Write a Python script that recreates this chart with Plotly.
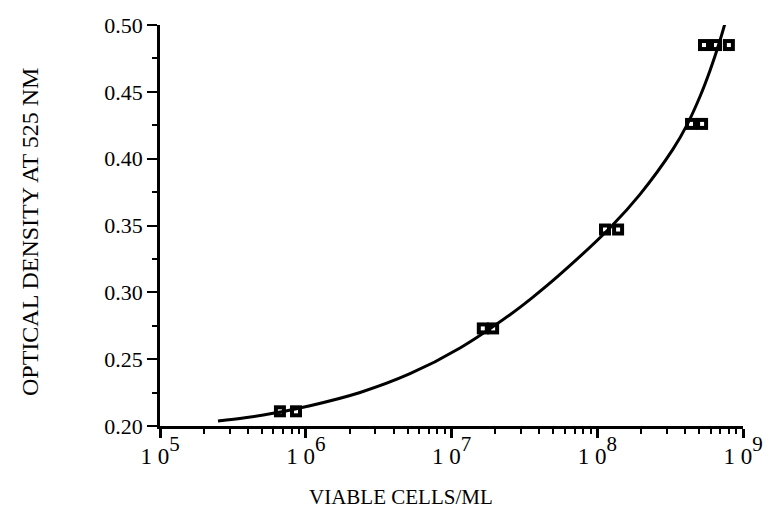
import plotly.graph_objects as go

# measured points (duplicate readings)
pt_x = [6.65e5, 8.57e5, 1.64e7, 1.93e7, 1.13e8, 1.39e8, 4.4e8, 5.24e8, 5.4e8, 6.53e8, 8.0e8]
pt_y = [0.211, 0.211, 0.273, 0.273, 0.347, 0.347, 0.426, 0.426, 0.485, 0.485, 0.485]

# hand-drawn fitted curve
curve_x = [2.50e5, 3.83e5, 5.96e5, 1.07e6, 2.36e6, 5.19e6, 1.144e7, 2.52e7, 3.57e7,
           5.55e7, 1.243e8, 1.965e8, 3.31e8, 4.13e8, 5.07e8, 5.94e8, 6.95e8, 8.02e8]
curve_y = [0.2037, 0.2061, 0.2095, 0.2152, 0.2251, 0.2391, 0.2584, 0.2833, 0.2959,
           0.3134, 0.3491, 0.3733, 0.4071, 0.4253, 0.4465, 0.4660, 0.4884, 0.5120]

x_tickvals = [1e5, 1e6, 1e7, 1e8, 1e9]
x_exps = ["5", "6", "7", "8", "9"]
y_tickvals = [0.20, 0.25, 0.30, 0.35, 0.40, 0.45, 0.50]
y_ticktext = ["0.20", "0.25", "0.30", "0.35", "0.40", "0.45", "0.50"]

x_minor = [m * 10 ** e for e in range(5, 9) for m in range(2, 10)]
y_minor = [0.225, 0.275, 0.325, 0.375, 0.425, 0.475]

FONT = "Liberation Serif, Times New Roman, serif"
x_ticktext = ["<span style='font-size:23px'>1\u00a00</span><sup>%s</sup>" % e
              for e in x_exps]

fig = go.Figure()
fig.add_trace(go.Scatter(x=pt_x, y=pt_y, mode="markers",
                         marker=dict(symbol="square", size=12, color="black",
                                     line=dict(width=0)),
                         hoverinfo="skip", showlegend=False))
fig.add_trace(go.Scatter(x=pt_x, y=pt_y, mode="markers",
                         marker=dict(symbol="square", size=4, color="white",
                                     line=dict(width=0)),
                         hoverinfo="skip", showlegend=False))
fig.add_trace(go.Scatter(x=curve_x, y=curve_y, mode="lines",
                         line=dict(color="black", width=3, shape="spline", smoothing=1),
                         hoverinfo="skip", showlegend=False))

pw = 774 - 160 - 31
ph = 512 - 25 - 86

fig.update_layout(
    width=774, height=512,
    margin=dict(l=160, r=31, t=25, b=86),
    paper_bgcolor="white", plot_bgcolor="white",
    font=dict(family=FONT, size=21, color="black"),
    xaxis=dict(type="log", range=[5, 9], showgrid=False, zeroline=False,
               automargin=False,
               showline=True, linecolor="black", linewidth=2.5,
               ticks="outside", ticklen=9, tickwidth=2.5, tickcolor="black",
               tickmode="array", tickvals=x_tickvals, ticktext=x_ticktext,
               tickfont=dict(family=FONT, size=30), ticklabelstandoff=-10,
               minor=dict(tickmode="array", tickvals=x_minor, ticks="outside",
                          ticklen=5, tickwidth=2, tickcolor="black", showgrid=False)),
    yaxis=dict(range=[0.20, 0.50], showgrid=False, zeroline=False,
               automargin=False,
               showline=True, linecolor="black", linewidth=2.5,
               ticks="outside", ticklen=10, tickwidth=2, tickcolor="black",
               tickmode="array", tickvals=y_tickvals, ticktext=y_ticktext,
               tickfont=dict(family=FONT, size=22),
               minor=dict(tickmode="array", tickvals=y_minor, ticks="outside",
                          ticklen=5, tickwidth=2, tickcolor="black", showgrid=False)),
    annotations=[
        dict(text="VIABLE CELLS/ML", xref="paper", yref="paper",
             x=(401 - 160) / pw, y=(426 - 497) / ph,
             xanchor="center", yanchor="middle",
             showarrow=False, font=dict(family=FONT, size=21)),
        dict(text="OPTICAL DENSITY AT 525 NM", xref="paper", yref="paper",
             x=(30 - 160) / pw, y=(426 - 232) / ph, textangle=-90,
             xanchor="center", yanchor="middle",
             showarrow=False, font=dict(family=FONT, size=24)),
    ],
)

fig.write_html("out.html")
